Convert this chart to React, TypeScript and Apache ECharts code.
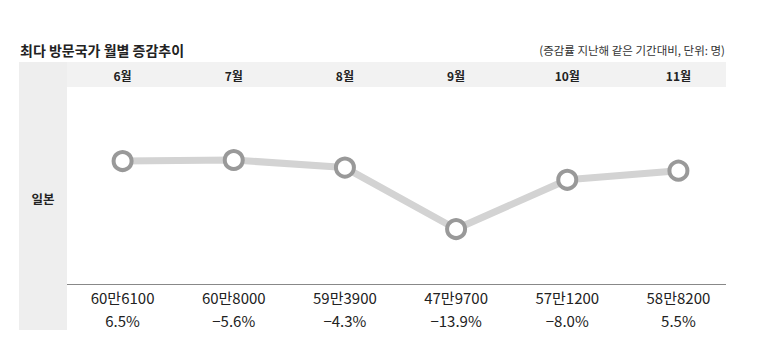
import React, { useEffect, useRef } from "react";
import * as echarts from "echarts";

const months = ["6월", "7월", "8월", "9월", "10월", "11월"];
const visitors = [606100, 608000, 593900, 479700, 571200, 588200];
const changes = ["6.5%", "−5.6%", "−4.3%", "−13.9%", "−8.0%", "5.5%"];
const country = "일본";
const title = "최다 방문국가 월별 증감추이";
const note = "(증감률 지난해 같은 기간대비, 단위: 명)";

const FONT = "'Noto Sans CJK KR', 'Noto Sans', sans-serif";

function fmt(v: number): string {
  const man = Math.floor(v / 10000);
  const rest = v % 10000;
  return `${man}만${rest}`;
}

export default function App() {
  const ref = useRef<HTMLDivElement>(null);
  useEffect(() => {
    if (!ref.current) return;
    const chart = echarts.init(ref.current, undefined, { renderer: "svg" });
    chart.setOption({
      animation: false,
      backgroundColor: "#ffffff",
      textStyle: { fontFamily: FONT },
      graphic: [
        { type: "rect", z: -10, shape: { x: 19, y: 62, width: 48, height: 268 }, style: { fill: "#eeeeee" } },
        { type: "rect", z: -10, shape: { x: 67, y: 62, width: 659, height: 25 }, style: { fill: "#f2f2f2" } },
        { type: "line", z: 1, shape: { x1: 67, y1: 284.5, x2: 726, y2: 284.5 }, style: { stroke: "#888888", lineWidth: 1 } },
        {
          type: "text", x: 20, y: 50,
          style: { text: title, fontSize: 14, fontWeight: "bold", fill: "#222", fontFamily: FONT, textVerticalAlign: "middle" },
        },
        {
          type: "text", x: 725, y: 50,
          style: { text: note, fontSize: 11.5, fill: "#333", fontFamily: FONT, textAlign: "right", textVerticalAlign: "middle" },
        },
        {
          type: "text", x: 43, y: 198,
          style: { text: country, fontSize: 12.5, fontWeight: "bold", fill: "#222", fontFamily: FONT, textAlign: "center", textVerticalAlign: "middle" },
        },
      ],
      grid: { left: 67, right: 24, top: 87, bottom: 68 },
      xAxis: [
        {
          type: "category",
          data: months,
          position: "top",
          boundaryGap: true,
          axisLine: { show: false },
          axisTick: { show: false },
          axisLabel: { fontSize: 12, fontWeight: "bold", color: "#222", margin: 6, fontFamily: FONT },
        },
        {
          type: "category",
          data: visitors.map((v, i) => `${fmt(v)}\n${changes[i]}`),
          position: "bottom",
          boundaryGap: true,
          axisLine: { show: false },
          axisTick: { show: false },
          axisLabel: {
            fontSize: 15, color: "#222", margin: 2, lineHeight: 23, fontFamily: FONT,
          },
        },
      ],
      yAxis: {
        type: "value",
        min: 377500,
        max: 743700,
        show: false,
        splitLine: { show: false },
      },
      series: [
        {
          type: "line",
          data: visitors,
          xAxisIndex: 0,
          lineStyle: { color: "#d3d3d3", width: 7 },
          symbol: "circle",
          symbolSize: 18,
          itemStyle: { color: "#ffffff", borderColor: "#999999", borderWidth: 4 },
          z: 5,
        },
      ],
    });
    return () => chart.dispose();
  }, []);
  return (
    <div
      ref={ref}
      style={{ position: "absolute", left: 0, top: 0, width: 758, height: 352 }}
    />
  );
}
